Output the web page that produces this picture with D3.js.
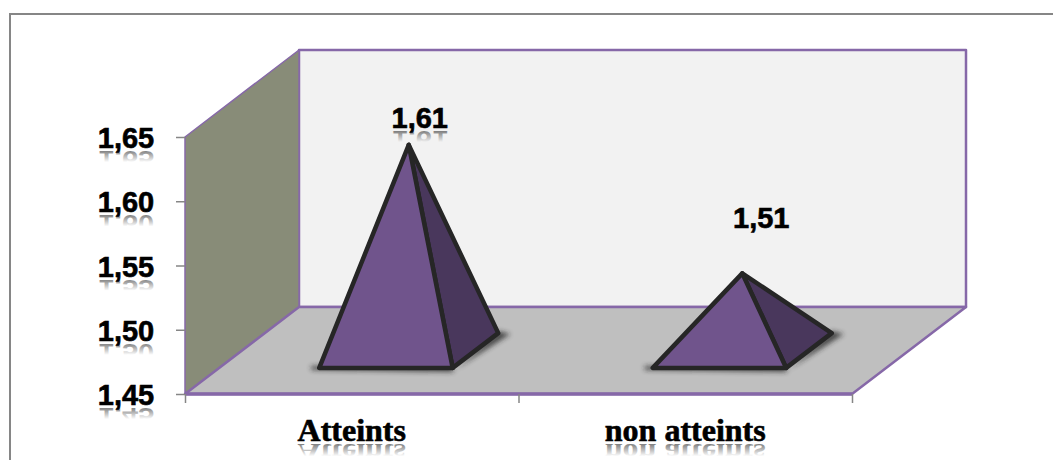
<!DOCTYPE html>
<html lang="en">
<head>
<meta charset="UTF-8">
<title>Atteints / non atteints</title>
<script src="https://d3js.org/d3.v7.min.js"></script>
<style>
    html, body { margin: 0; padding: 0; background: #fff; }
    svg { display: block; }
</style>
</head>
<body>
<svg id="chart"></svg>
<script>
const categories = ["Atteints", "non atteints"];
const values = [1.61, 1.51];
const valueTicks = [1.45, 1.50, 1.55, 1.60, 1.65];

const width = 1053, height = 460;
const frontLeft = 185, frontRight = 852, frontBottom = 394, frontTop = 137;
const depthX = 114, depthY = 87;
// base of a pyramid sits between these fractions of the floor depth
const baseNear = 0.3, baseFar = 0.7, apexDepth = 0.5;
const labelShift = [[11, -17], [19, -45]];

const purple = "#8668a8";
const sansFont = "'Liberation Sans', Arial, sans-serif";
const serifFont = "'Liberation Serif', 'Times New Roman', serif";
const fmt = d => d.toFixed(2).replace(".", ",");

const svg = d3.select("#chart").attr("width", width).attr("height", height);

const y = d3.scaleLinear().domain([valueTicks[0], valueTicks[4]]).range([frontBottom, frontTop]);
const x = d3.scaleBand().domain(categories).range([frontLeft, frontRight]);
const edges = d3.scaleLinear().domain([0, categories.length]).range([frontLeft, frontRight]);

const defs = svg.append("defs");
defs.append("filter").attr("id", "soft")
    .attr("x", "-20%").attr("y", "-100%").attr("width", "140%").attr("height", "300%")
    .append("feGaussianBlur").attr("stdDeviation", 2.5);
const fade = defs.append("linearGradient").attr("id", "fade")
    .attr("x1", 0).attr("y1", 0).attr("x2", 0).attr("y2", 1);
fade.append("stop").attr("offset", 0.38).attr("stop-color", "#000").attr("stop-opacity", 0);
fade.append("stop").attr("offset", 0.81).attr("stop-color", "#000").attr("stop-opacity", 0.5);

// outer frame, only its top and left edges show
svg.append("path")
    .attr("d", `M10,${height}V14H${width}`)
    .attr("fill", "none").attr("stroke", "#868686").attr("stroke-width", 2);

const pts = a => a.map(p => p.join(",")).join(" ");
const walls = svg.append("g").attr("stroke-linejoin", "round");

// back wall
walls.append("polygon")
    .attr("points", pts([
        [frontLeft + depthX, frontTop - depthY], [frontRight + depthX, frontTop - depthY],
        [frontRight + depthX, frontBottom - depthY], [frontLeft + depthX, frontBottom - depthY]]))
    .attr("fill", "#f2f2f2").attr("stroke", purple).attr("stroke-width", 2.5);

// side wall
walls.append("polygon")
    .attr("points", pts([
        [frontLeft, frontTop], [frontLeft + depthX, frontTop - depthY],
        [frontLeft + depthX, frontBottom - depthY], [frontLeft, frontBottom]]))
    .attr("fill", "#888c78").attr("stroke", purple).attr("stroke-width", 1.5);

// floor
walls.append("polygon")
    .attr("points", pts([
        [frontLeft, frontBottom], [frontLeft + depthX, frontBottom - depthY],
        [frontRight + depthX, frontBottom - depthY], [frontRight, frontBottom]]))
    .attr("fill", "#bfbfbf").attr("stroke", purple).attr("stroke-width", 2.5);
walls.append("line")
    .attr("x1", frontLeft).attr("x2", frontRight)
    .attr("y1", frontBottom).attr("y2", frontBottom)
    .attr("stroke", purple).attr("stroke-width", 3.5);

// axes
const yAxis = svg.append("g")
    .attr("transform", `translate(${frontLeft},0)`)
    .call(d3.axisLeft(y).tickValues(valueTicks).tickSize(9).tickFormat(fmt));
const xAxis = svg.append("g")
    .attr("transform", `translate(0,${frontBottom})`)
    .call(d3.axisBottom(edges).tickValues(d3.range(categories.length + 1)).tickSize(9).tickFormat(""));
yAxis.select(".domain").remove();
xAxis.select(".domain").remove();
svg.selectAll(".tick line").attr("stroke", "#868686").attr("stroke-width", 1.5);
yAxis.selectAll("text").remove();
xAxis.selectAll("text").remove();

// text with a fading mirror image under its baseline, the mirror is a <use> of the text
let textId = 0;
function reflected(tx, ty, label, font, size) {
    const id = `label-${textId++}`;
    const g = svg.append("g")
        .attr("font-family", font).attr("font-weight", "bold")
        .attr("font-size", size).attr("text-anchor", "middle");
    const s = 0.8;
    g.append("use")
        .attr("href", `#${id}`)
        .attr("transform", `translate(0,${ty + 3 + s * ty}) scale(1,${-s})`)
        .attr("fill", "url(#fade)");
    const main = g.append("g").attr("fill", "#000").attr("stroke", "#000").attr("stroke-width", 0.6);
    main.append("text").attr("id", id).attr("x", tx).attr("y", ty).text(label);
}

valueTicks.forEach(v => reflected(126, y(v) + 11, fmt(v), sansFont, 29));
categories.forEach(c => reflected(x(c) + x.bandwidth() / 2, 441, c, serifFont, 32));

// pyramids
const barWidth = x.bandwidth() * 0.4;
const pyramids = categories.map((c, i) => {
    const cx = x(c) + x.bandwidth() / 2;
    const nearL = [cx - barWidth / 2 + depthX * baseNear, frontBottom - depthY * baseNear];
    const nearR = [cx + barWidth / 2 + depthX * baseNear, frontBottom - depthY * baseNear];
    const farR = [cx + barWidth / 2 + depthX * baseFar, frontBottom - depthY * baseFar];
    const apex = [cx + depthX * apexDepth, y(values[i]) - depthY * apexDepth];
    return { nearL, nearR, farR, apex, value: values[i], i };
});

const marks = svg.append("g");
// soft contact shadow under the base
marks.selectAll("polygon.shadow").data(pyramids).join("polygon")
    .attr("class", "shadow")
    .attr("points", d => pts([
        [d.nearL[0] - 8, d.nearL[1] - 2], [d.nearR[0], d.nearR[1] - 2], [d.nearR[0], d.nearR[1] + 3],
        [d.farR[0] + 12, d.farR[1] + 1], [d.farR[0], d.farR[1] - 2], [d.nearR[0], d.nearR[1] + 4], [d.nearL[0] - 8, d.nearL[1] + 2]]))
    .attr("fill", "#222").attr("opacity", 0.75).attr("filter", "url(#soft)");

marks.selectAll("polygon.side").data(pyramids).join("polygon")
    .attr("class", "side")
    .attr("points", d => pts([d.apex, d.nearR, d.farR]))
    .attr("fill", "#49375c").attr("stroke", "#262626").attr("stroke-width", 4.5).attr("stroke-linejoin", "round");
marks.selectAll("polygon.front").data(pyramids).join("polygon")
    .attr("class", "front")
    .attr("points", d => pts([d.apex, d.nearL, d.nearR]))
    .attr("fill", "#70548c").attr("stroke", "#262626").attr("stroke-width", 4.5).attr("stroke-linejoin", "round");

// value labels: the first carries the same reflection as the axis text
pyramids.forEach(d => {
    const lx = d.apex[0] + labelShift[d.i][0], ly = d.apex[1] + labelShift[d.i][1];
    if (d.i === 0) {
        reflected(lx, ly, fmt(d.value), sansFont, 29);
    } else {
        svg.append("text")
            .attr("x", lx).attr("y", ly)
            .attr("text-anchor", "middle")
            .attr("font-family", sansFont)
            .attr("font-weight", "bold").attr("font-size", 29)
            .attr("stroke", "#000").attr("stroke-width", 0.6)
            .text(fmt(d.value));
    }
});
</script>
</body>
</html>
